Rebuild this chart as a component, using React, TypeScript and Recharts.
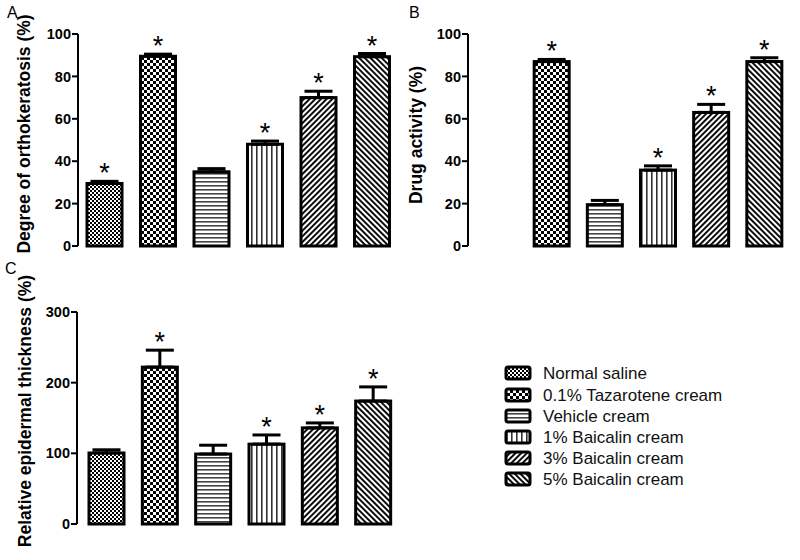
import React from 'react';
import { BarChart, Bar, XAxis, YAxis, ErrorBar, Label } from 'recharts';

// groups, in the order of the bars and the legend
const groups = [
  'Normal saline',
  '0.1% Tazarotene cream',
  'Vehicle cream',
  '1% Baicalin cream',
  '3% Baicalin cream',
  '5% Baicalin cream',
];
const patternKeys = ['saline', 'taz', 'vehicle', 'baic1', 'baic3', 'baic5'];

// A: degree of orthokeratosis (%)
const orthoMean = [29.5, 89.5, 35, 48, 70, 89.3];
const orthoErr = [1, 1, 1.5, 1.5, 3, 1.5];
const orthoSig = [true, true, false, true, true, true];

// B: drug activity (%) - no bar for normal saline
const activityMean = [null, 87, 19.5, 35.8, 63, 87];
const activityErr = [null, 1, 2, 2, 3.8, 1.8];
const activitySig = [false, true, false, true, true, true];

// C: relative epidermal thickness (%)
const thicknessMean = [100.5, 222, 99, 113, 136, 174];
const thicknessErr = [4.5, 24, 12.5, 13, 7, 20];
const thicknessSig = [false, true, false, true, true, true];

const ticks100 = [0, 20, 40, 60, 80, 100];
const ticks300 = [0, 100, 200, 300];

const FONT = 'Arial, "Liberation Sans", Helvetica, sans-serif';

const buildRows = (mean: (number | null)[], err: (number | null)[], sig: boolean[]) =>
  groups.map((name, i) => ({
    name,
    key: patternKeys[i],
    value: mean[i],
    err: err[i] == null ? null : [0, err[i]],
    sig: sig[i],
  }));

const Patterns = ({ prefix }: { prefix: string }) => (
  <defs>
    <pattern id={`${prefix}-saline`} width={4} height={4} patternUnits="userSpaceOnUse">
      <rect width={4} height={4} fill="#fff" />
      <rect width={2} height={2} fill="#000" />
      <rect x={2} y={2} width={2} height={2} fill="#000" />
    </pattern>
    <pattern id={`${prefix}-taz`} width={6} height={6} patternUnits="userSpaceOnUse">
      <rect width={6} height={6} fill="#fff" />
      <rect width={3} height={3} fill="#000" />
      <rect x={3} y={3} width={3} height={3} fill="#000" />
    </pattern>
    <pattern id={`${prefix}-vehicle`} width={4} height={4} patternUnits="userSpaceOnUse">
      <rect width={4} height={4} fill="#fff" />
      <rect y={1} width={4} height={1.6} fill="#444" />
    </pattern>
    <pattern id={`${prefix}-baic1`} width={5} height={5} patternUnits="userSpaceOnUse">
      <rect width={5} height={5} fill="#fff" />
      <rect x={1} width={1.6} height={5} fill="#333" />
    </pattern>
    <pattern id={`${prefix}-baic3`} width={4} height={4} patternUnits="userSpaceOnUse" patternTransform="rotate(45)">
      <rect width={4} height={4} fill="#fff" />
      <rect width={1.9} height={4} fill="#000" />
    </pattern>
    <pattern id={`${prefix}-baic5`} width={4} height={4} patternUnits="userSpaceOnUse" patternTransform="rotate(-45)">
      <rect width={4} height={4} fill="#fff" />
      <rect width={1.9} height={4} fill="#000" />
    </pattern>
  </defs>
);

// bar with thick outline, pattern fill and the significance star above its error bar
const renderBar = (prefix: string) => (props: any) => {
  const { x, y, width, height, payload } = props;
  if (!payload || payload.value == null || !height) return <g />;
  const perUnit = height / payload.value;
  const errTop = y - (payload.err ? payload.err[1] : 0) * perUnit;
  return (
    <g>
      <rect
        x={x}
        y={y}
        width={width}
        height={height}
        fill={`url(#${prefix}-${payload.key})`}
        stroke="#000"
        strokeWidth={3}
      />
      {payload.sig && (
        <text
          x={x + width / 2}
          y={errTop + 1}
          textAnchor="middle"
          fontSize={27}
          fontFamily={FONT}
          fill="#000"
        >
          *
        </text>
      )}
    </g>
  );
};

type PanelProps = {
  id: string;
  rows: ReturnType<typeof buildRows>;
  left: number;
  top: number;
  width: number;
  height: number;
  margin: { top: number; right: number; bottom: number; left: number };
  padLeft: number;
  domain: [number, number];
  ticks: number[];
  yLabel: string;
  labelX: number;
  labelY: number;
};

const Panel = ({ id, rows, left, top, width, height, margin, padLeft, domain, ticks, yLabel, labelX, labelY }: PanelProps) => (
  <div style={{ position: 'absolute', left, top, width, height }}>
    <BarChart width={width} height={height} data={rows} margin={margin} barSize={35}>
      <Patterns prefix={id} />
      <XAxis
        dataKey="name"
        tick={false}
        tickLine={false}
        height={0}
        padding={{ left: padLeft, right: 0 }}
        axisLine={{ stroke: '#000', strokeWidth: 2 }}
      />
      <YAxis
        width={50}
        domain={domain}
        ticks={ticks}
        interval={0}
        tickSize={6}
        tickMargin={1}
        axisLine={{ stroke: '#000', strokeWidth: 2 }}
        tickLine={{ stroke: '#000', strokeWidth: 2 }}
        tick={{ fill: '#000', fontSize: 14.5, fontWeight: 'bold', fontFamily: FONT }}
      >
        <Label
          content={() => (
            <text
              x={labelX}
              y={labelY}
              transform={`rotate(-90 ${labelX} ${labelY})`}
              textAnchor="middle"
              fontSize={17.5}
              fontWeight="bold"
              fontFamily={FONT}
              fill="#000"
            >
              {yLabel}
            </text>
          )}
        />
      </YAxis>
      <Bar dataKey="value" isAnimationActive={false} shape={renderBar(id)}>
        <ErrorBar dataKey="err" width={14} strokeWidth={3} stroke="#000" direction="y" />
      </Bar>
    </BarChart>
  </div>
);

const legendRows = [373, 395, 416, 437, 458, 479];

export default function App() {
  return (
    <div style={{ position: 'absolute', left: 0, top: 0, width: 800, height: 560, background: '#fff', fontFamily: FONT }}>
      <Panel
        id="a"
        rows={buildRows(orthoMean, orthoErr, orthoSig)}
        left={0}
        top={0}
        width={405}
        height={260}
        margin={{ top: 34, right: 6, bottom: 14, left: 28 }}
        padLeft={0}
        domain={[0, 100]}
        ticks={ticks100}
        yLabel="Degree of orthokeratosis (%)"
        labelX={30}
        labelY={134}
      />
      <Panel
        id="b"
        rows={buildRows(activityMean, activityErr, activitySig)}
        left={400}
        top={0}
        width={400}
        height={260}
        margin={{ top: 34, right: 9, bottom: 14, left: 18 }}
        padLeft={4}
        domain={[0, 100]}
        ticks={ticks100}
        yLabel="Drug activity (%)"
        labelX={22}
        labelY={135}
      />
      <Panel
        id="c"
        rows={buildRows(thicknessMean, thicknessErr, thicknessSig)}
        left={0}
        top={260}
        width={405}
        height={300}
        margin={{ top: 52, right: 5, bottom: 36, left: 27 }}
        padLeft={3}
        domain={[0, 300]}
        ticks={ticks300}
        yLabel="Relative epidermal thickness (%)"
        labelX={31}
        labelY={151}
      />
      <svg
        width={800}
        height={560}
        style={{ position: 'absolute', left: 0, top: 0, pointerEvents: 'none' }}
      >
        <Patterns prefix="lg" />
        <text x={7} y={18} fontSize={16} fontFamily={FONT} fill="#000">A</text>
        <text x={409} y={18} fontSize={16} fontFamily={FONT} fill="#000">B</text>
        <text x={5} y={274} fontSize={16} fontFamily={FONT} fill="#000">C</text>
        {groups.map((g, i) => (
          <g key={g}>
            <rect
              x={506}
              y={legendRows[i] - 6}
              width={24}
              height={12}
              rx={2}
              fill={`url(#lg-${patternKeys[i]})`}
              stroke="#000"
              strokeWidth={3}
            />
            <text x={543} y={legendRows[i] + 6} fontSize={17} fontFamily={FONT} fill="#111">
              {g}
            </text>
          </g>
        ))}
      </svg>
    </div>
  );
}
